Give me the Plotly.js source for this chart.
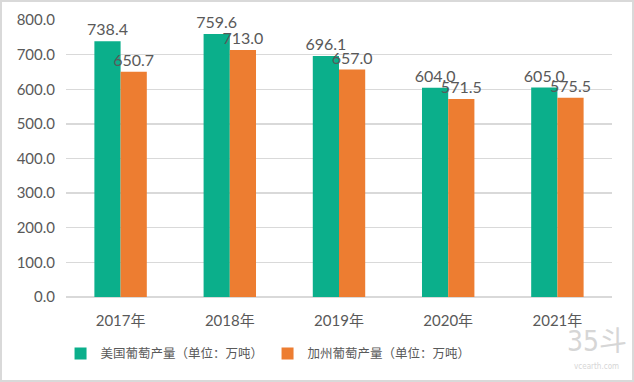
<!DOCTYPE html>
<html><head><meta charset="utf-8">
<script src="https://cdn.plot.ly/plotly-3.0.1.min.js"></script>
<style>html,body{margin:0;padding:0;background:#fff}#wrap{position:relative;width:634px;height:382px}
#frame{position:absolute;left:0;top:0;width:634px;height:382px;box-sizing:border-box;border:2px solid #d9d9d9;pointer-events:none}</style>
</head><body><div id="wrap"><div id="chart" style="width:634px;height:382px"></div><div id="frame"></div></div>
<script>
const categories = ['2017年','2018年','2019年','2020年','2021年'];
const usValues = [738.4, 759.6, 696.1, 604.0, 605.0];
const caValues = [650.7, 713.0, 657.0, 571.5, 575.5];
const seriesNames = ['美国葡萄产量（单位：万吨）','加州葡萄产量（单位：万吨）'];
const yTicks = [0,100,200,300,400,500,600,700,800];

const font = '"Lato","Noto Sans CJK SC",sans-serif';
const mk = (vals, name, color) => ({
  type:'bar', x:categories, y:vals, name:name,
  marker:{color:color},
  text: vals.map(v=>v.toFixed(1)), textposition:'outside', constraintext:'none',
  textfont:{family:font, size:16, color:'#595959'},
  cliponaxis:false
});
Plotly.newPlot('chart', [
  mk(usValues, seriesNames[0], '#0BAF8B'),
  mk(caValues, seriesNames[1], '#ED7D31')
], {
  width:634, height:382,
  margin:{l:66, r:22, t:20, b:85, autoexpand:false},
  paper_bgcolor:'#fff', plot_bgcolor:'#fff',
  barmode:'group', bargap:0.52, bargroupgap:0,
  showlegend:true,
  legend:{orientation:'h', x:-0.01, xanchor:'left', y:-0.205, yanchor:'middle',
    font:{family:'"Noto Sans CJK SC",sans-serif', size:12.5, color:'#595959'},
    itemwidth:30, tracegroupgap:0, entrywidth:162},
  xaxis:{showgrid:false, showline:false, ticks:'', automargin:false, tickfont:{family:font, size:15, color:'#595959'}, ticklabelstandoff:13},
  yaxis:{range:[0,800], tickvals:yTicks, ticktext:yTicks.map(v=>v.toFixed(1)), automargin:false,
    showgrid:true, gridcolor:'#d9d9d9', gridwidth:1.3, zeroline:true, zerolinecolor:'#d9d9d9', zerolinewidth:1.3,
    tickfont:{family:font, size:15, color:'#595959'}, ticklabelstandoff:10, showline:false},
  annotations:[
    {xref:'paper', yref:'paper', x:0.972, y:-0.162, xanchor:'center', yanchor:'middle', showarrow:false,
     text:'35斗', font:{family:'"DejaVu Sans Condensed","Noto Sans CJK SC",sans-serif', size:28, color:'#d6d6d6'}},
    {xref:'paper', yref:'paper', x:0.972, y:-0.25, xanchor:'center', yanchor:'middle', showarrow:false,
     text:'vcearth.com', font:{family:'"DejaVu Sans Condensed",sans-serif', size:8, color:'#d6d6d6'}}
  ]
}, {displayModeBar:false, staticPlot:true});
</script></body></html>
